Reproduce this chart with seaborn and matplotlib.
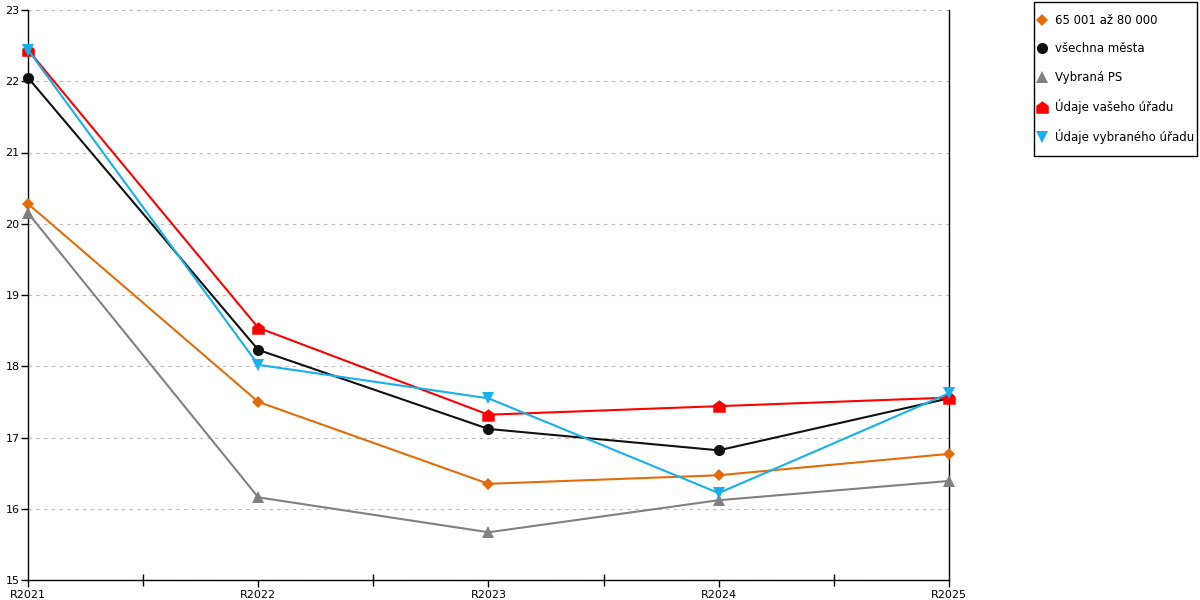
import matplotlib
matplotlib.use("Agg")
import matplotlib.pyplot as plt
from matplotlib.lines import Line2D
from matplotlib.patches import Rectangle
from matplotlib.path import Path
from matplotlib.ticker import FixedLocator
import seaborn as sns
import pandas as pd

# Data
roky = ["R2021", "R2022", "R2023", "R2024", "R2025"]
velikost_65_80 = [20.28, 17.50, 16.35, 16.47, 16.77]
vsechna_mesta = [22.05, 18.23, 17.12, 16.82, 17.55]
vybrana_ps = [20.15, 16.16, 15.67, 16.12, 16.39]
vas_urad = [22.44, 18.54, 17.32, 17.44, 17.56]
vybrany_urad = [22.44, 18.02, 17.55, 16.22, 17.62]

nazvy = ["65 001 až 80 000", "všechna města", "Vybraná PS",
         "Údaje vašeho úřadu", "Údaje vybraného úřadu"]
serie = [velikost_65_80, vsechna_mesta, vybrana_ps, vas_urad, vybrany_urad]

barvy = {
    "65 001 až 80 000": "#E36C0A",
    "všechna města": "#111111",
    "Vybraná PS": "#808080",
    "Údaje vašeho úřadu": "#FF0000",
    "Údaje vybraného úřadu": "#16B0EC",
}
# house-like pentagon marker
domecek = Path([(-1, -1), (1, -1), (1, 0.25), (0, 1), (-1, 0.25), (-1, -1)],
               [Path.MOVETO, Path.LINETO, Path.LINETO, Path.LINETO, Path.LINETO, Path.CLOSEPOLY])
znacky = {
    "65 001 až 80 000": "D",
    "všechna města": "o",
    "Vybraná PS": "^",
    "Údaje vašeho úřadu": domecek,
    "Údaje vybraného úřadu": "v",
}
velikosti = {"65 001 až 80 000": 6, "všechna města": 8, "Vybraná PS": 9,
             "Údaje vašeho úřadu": 9, "Údaje vybraného úřadu": 9}

radky = []
for nazev, hodnoty in zip(nazvy, serie):
    for rok, h in zip(roky, hodnoty):
        radky.append({"Rok": rok, "Hodnota": h, "Serie": nazev})
df = pd.DataFrame(radky)

sns.set_style("white")
plt.rcParams["font.family"] = ["DejaVu Sans"]
plt.rcParams["text.color"] = "black"
plt.rcParams["xtick.color"] = "black"
plt.rcParams["ytick.color"] = "black"

fig = plt.figure(figsize=(12, 6), dpi=100)
ax = fig.add_axes([28 / 1200, 20 / 600, 921 / 1200, 570 / 600])

for nazev in nazvy:
    d = df[df["Serie"] == nazev]
    sns.lineplot(data=d, x="Rok", y="Hodnota", ax=ax, color=barvy[nazev],
                 marker=znacky[nazev], markersize=velikosti[nazev],
                 markeredgewidth=0, linewidth=1.5, legend=False, sort=False,
                 clip_on=False, zorder=3)

ax.set_xlim(0, 4)
ax.set_ylim(15, 23)
ax.set_yticks(range(15, 24))
ax.yaxis.grid(True, linestyle=(0, (3, 4)), color="#BBBBBB", linewidth=0.8)
ax.xaxis.grid(False)
ax.set_axisbelow(True)
ax.set_xlabel("")
ax.set_ylabel("")
ax.xaxis.set_minor_locator(FixedLocator([0.5, 1.5, 2.5, 3.5]))
ax.tick_params(axis="x", which="major", direction="out", length=5, width=1,
               labelsize=8, pad=2, bottom=True)
ax.tick_params(axis="x", which="minor", direction="inout", length=8, width=1, bottom=True)
ax.tick_params(axis="y", direction="out", length=5, width=1, labelsize=8, pad=1, left=True)

for s in ["left", "bottom", "right"]:
    ax.spines[s].set_visible(True)
    ax.spines[s].set_color("black")
    ax.spines[s].set_linewidth(1)
ax.spines["top"].set_visible(False)

# legend box drawn separately so the padding matches the reference
fig.patches.append(Rectangle((1034 / 1200, 1 - 156 / 600), 163 / 1200, 154 / 600,
                             transform=fig.transFigure, fill=False,
                             edgecolor="black", linewidth=1))
handles = [Line2D([], [], linestyle="none", marker=znacky[n], color=barvy[n],
                  markersize=velikosti[n], markeredgewidth=0) for n in nazvy]
fig.legend(handles, nazvy, loc="upper left",
           bbox_to_anchor=(1036 / 1200, 1 - 14 / 600), borderaxespad=0,
           fontsize=8.5, labelspacing=1.3, handletextpad=0.6,
           handlelength=1.0, borderpad=0, frameon=False)

fig.savefig("out.png", dpi=100)
